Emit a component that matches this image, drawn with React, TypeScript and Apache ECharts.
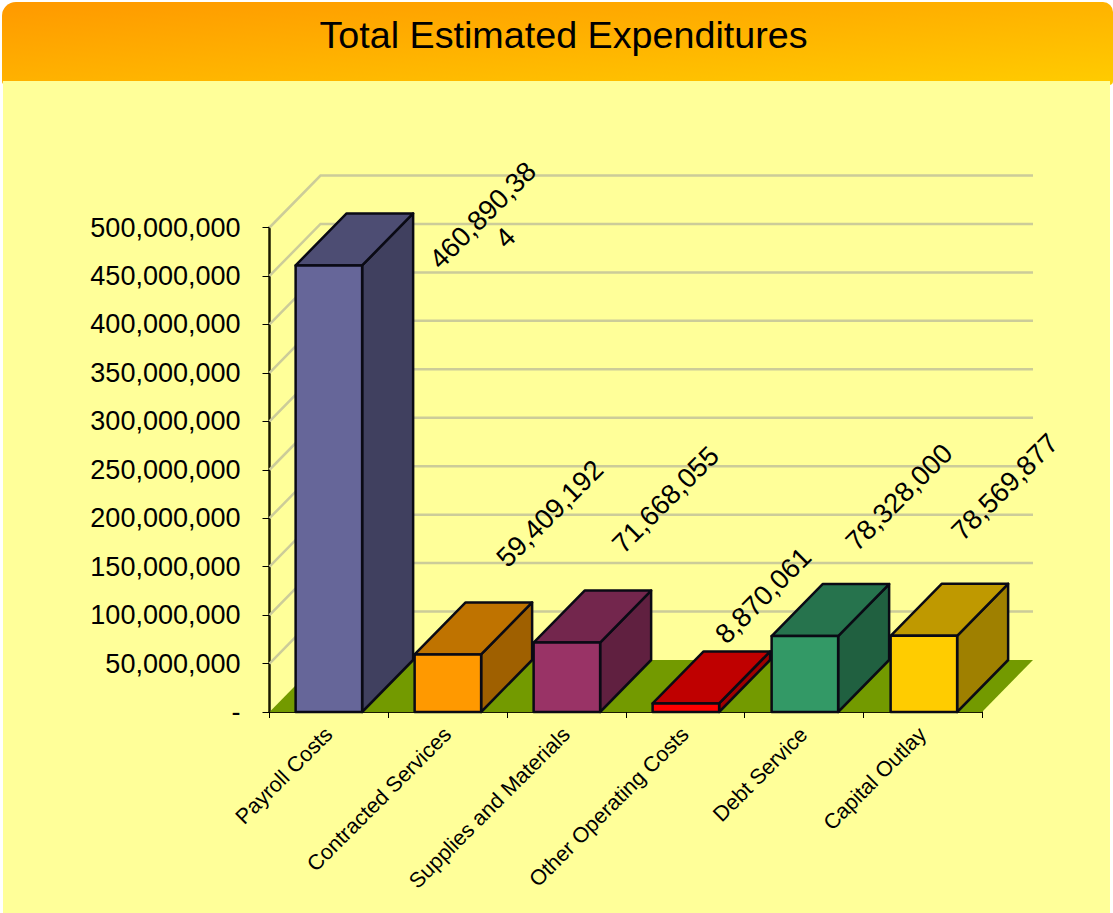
import React, { useEffect, useRef } from "react";
import * as echarts from "echarts";

const categories = ["Payroll Costs", "Contracted Services", "Supplies and Materials", "Other Operating Costs", "Debt Service", "Capital Outlay"];
const expenditures = [460890384, 59409192, 71668055, 8870061, 78328000, 78569877];
const dataLabels = ["460,890,38\n4", "59,409,192", "71,668,055", "8,870,061", "78,328,000", "78,569,877"];
const frontColors = ["#666699", "#FF9900", "#993366", "#FF0000", "#339966", "#FFCC00"];
const topColors = ["#4D4D73", "#BF7300", "#73264D", "#BF0000", "#26734D", "#BF9900"];
const sideColors = ["#40405F", "#9F6000", "#602040", "#9F0000", "#206040", "#9F8000"];
const gridValues = [50000000, 100000000, 150000000, 200000000, 250000000, 300000000, 350000000, 400000000, 450000000, 500000000];

const labelOffsetX = [165, 102, 99, 78, 95, 82];
const labelOffsetY = [-39, -141, -143, -108, -139, -149];
const DEPTH_X = 51;
const DEPTH_Y = 52;
const BAR_RATIO = 0.56;
const BAR_DRIFT = 0.25;
const FONT = '"Liberation Sans", Arial, sans-serif';

const poly = (points: number[][], fill: string, stroke: string, lineWidth: number) => ({
  type: "polygon",
  shape: { points },
  style: { fill, stroke, lineWidth, lineJoin: "round" },
});

export default function App() {
  const ref = useRef<HTMLDivElement>(null);
  useEffect(() => {
    const chart = echarts.init(ref.current!, null, { renderer: "svg" });
    chart.setOption({
      animation: false,
      backgroundColor: "#FFFFFF",
      title: {
        text: "Total Estimated Expenditures",
        left: 558.5,
        top: 11,
        textAlign: "center",
        textStyle: { fontFamily: FONT, fontSize: 37.7, fontWeight: "normal", color: "#000000" },
      },
      graphic: [
        {
          type: "rect",
          z: -2,
          shape: { x: 2, y: 2, width: 1111, height: 83, r: [14, 10, 4, 4] },
          style: {
            fill: new echarts.graphic.LinearGradient(0, 0, 1, 1, [
              { offset: 0, color: "#FF9900" },
              { offset: 1, color: "#FFCC00" },
            ]),
          },
        },
        { type: "rect", z: -1, shape: { x: 3, y: 81, width: 1107, height: 832 }, style: { fill: "#FFFF99" } },
      ],
      grid: { left: 269.5, top: 227.5, width: 712.5, height: 484.5 },
      xAxis: {
        type: "category",
        data: categories,
        axisLine: { lineStyle: { color: "#1A1A00", width: 2 } },
        axisTick: { show: true, alignWithLabel: false, length: 6, lineStyle: { color: "#000000" } },
        axisLabel: { rotate: 45, interval: 0, margin: 19, fontFamily: FONT, fontSize: 21.5, color: "#000000" },
      },
      yAxis: {
        type: "value",
        min: 0,
        max: 500000000,
        interval: 50000000,
        splitLine: { show: false },
        axisLine: { show: true, lineStyle: { color: "#1A1A00", width: 2.5 } },
        axisTick: { show: true, length: 7, lineStyle: { color: "#000000" } },
        axisLabel: {
          margin: 29,
          fontFamily: FONT,
          fontSize: 27,
          color: "#000000",
          formatter: (v: number) => (v === 0 ? "-" : v.toLocaleString("en-US")),
        },
      },
      series: [
        {
          type: "custom",
          name: "Floor",
          z: 1,
          silent: true,
          data: [0],
          renderItem: (params: any) => {
            const g = params.coordSys;
            const b = g.y + g.height;
            return poly(
              [[g.x, b], [g.x + DEPTH_X, b - DEPTH_Y], [g.x + g.width + DEPTH_X, b - DEPTH_Y], [g.x + g.width, b]],
              "#739A00",
              "none",
              0
            );
          },
        },
        {
          type: "custom",
          name: "Gridlines",
          z: 1,
          silent: true,
          data: gridValues.map((v) => [0, v]),
          encode: { y: 1 },
          renderItem: (params: any, api: any) => {
            const g = params.coordSys;
            const y = api.coord([0, api.value(1)])[1];
            return {
              type: "polyline",
              shape: { points: [[g.x, y], [g.x + DEPTH_X, y - DEPTH_Y], [g.x + g.width + DEPTH_X, y - DEPTH_Y]] },
              style: { fill: "none", stroke: "#CCCC99", lineWidth: 2.5 },
            };
          },
        },
        {
          type: "custom",
          name: "Expenditures",
          z: 3,
          data: expenditures.map((v, i) => [i, v]),
          encode: { x: 0, y: 1 },
          renderItem: (params: any, api: any) => {
            const i = api.value(0);
            const [cx0, top] = api.coord([i, api.value(1)]);
            const cx = cx0 + i * BAR_DRIFT;
            const bottom = api.coord([i, 0])[1];
            const w = (api.size([1, 0])[0] * BAR_RATIO) / 2;
            const l = cx - w;
            const r = cx + w;
            const stroke = "#0A0A14";
            return {
              type: "group",
              children: [
                poly([[r, bottom], [r + DEPTH_X, bottom - DEPTH_Y], [r + DEPTH_X, top - DEPTH_Y], [r, top]], sideColors[i], stroke, 2.5),
                poly([[l, top], [l + DEPTH_X, top - DEPTH_Y], [r + DEPTH_X, top - DEPTH_Y], [r, top]], topColors[i], stroke, 2.5),
                poly([[l, bottom], [l, top], [r, top], [r, bottom]], frontColors[i], stroke, 2.5),
              ],
            };
          },
        },
        {
          type: "custom",
          name: "Labels",
          z: 4,
          silent: true,
          data: expenditures.map((v, i) => [i, v]),
          encode: { x: 0, y: 1 },
          renderItem: (params: any, api: any) => {
            const i = api.value(0);
            const [cx, top] = api.coord([i, api.value(1)]);
            return {
              type: "text",
              x: cx + labelOffsetX[i],
              y: top + labelOffsetY[i],
              rotation: Math.PI / 4,
              style: {
                text: dataLabels[i],
                align: "center",
                verticalAlign: "middle",
                fontFamily: FONT,
                fontSize: 27.5,
                lineHeight: 32,
                fill: "#000000",
              },
            };
          },
        },
      ],
    });
    return () => chart.dispose();
  }, []);
  return <div ref={ref} style={{ position: "absolute", left: 0, top: 0, width: 1113, height: 913 }} />;
}
